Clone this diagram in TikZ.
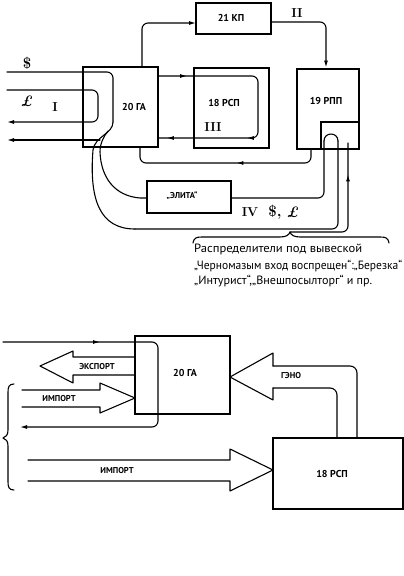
\documentclass[tikz,border=0pt]{standalone}
\usepackage{fontspec}
\newfontfamily\ptsans{PT Sans}
\usetikzlibrary{arrows.meta,decorations.markings}
\tikzset{
  box/.style={draw, line width=2.5pt, inner sep=0pt, outer sep=0pt},
  thinbox/.style={draw, line width=1.1pt},
  ln/.style={line width=1.1pt, line cap=round, line join=round},
  tipend/.style={-{Latex[length=7pt,width=4pt]}},
  marr/.style={postaction={decorate, decoration={markings, mark=at position #1 with {\arrow{Latex[length=7pt,width=4pt]}}}}},
  boxlab/.style={font=\ptsans\bfseries\fontsize{10}{12}\selectfont, inner sep=0pt},
  smlab/.style={font=\ptsans\bfseries\fontsize{8.5}{10}\selectfont, inner sep=0pt},
  roman/.style={font=\bfseries\fontsize{13}{13}\selectfont, inner sep=0pt},
  sym/.style={font=\bfseries\fontsize{15}{15}\selectfont, inner sep=0pt},
  txt/.style={font=\ptsans\fontsize{12}{14}\selectfont, inner sep=0pt, anchor=west}
}
\begin{document}
\begin{tikzpicture}[x=1pt,y=-1pt]
\useasboundingbox (0,0) rectangle (404,576);

% ---------- upper diagram: boxes ----------
\node[box, minimum width=75pt, minimum height=31pt] (kp) at (233.5,18.5) {};
\node[box, minimum width=75pt, minimum height=80pt] (gaA) at (120.5,107) {};
\node[box, minimum width=75pt, minimum height=80pt] (rspA) at (231.5,108) {};
\node[box, minimum width=62pt, minimum height=80pt] (rpp) at (328,109) {};
\node[thinbox, minimum width=38pt, minimum height=27pt, inner sep=0pt, outer sep=0pt] (rppin) at (340,135.5) {};
\node[box, minimum width=84pt, minimum height=32pt] (elita) at (189,197) {};

\node[boxlab] (tkp) at (231,18) {21 КП};
\node[boxlab] (tgaA) at (134,107) {20 ГА};
\node[boxlab] (trspA) at (224,103) {18 РСП};
\node[boxlab] (trpp) at (326,101) {19 РПП};
\node[smlab] (telita) at (182,196) {„ЭЛИТА“};

% roman numerals and currency
\node[roman] (rI) at (55,107) {I};
\node[roman] (rII) at (297,13) {II};
\node[roman] (rIII) at (213,127) {III};
\node[roman] (rIV) at (250,212) {IV};
\node[sym] (sd1) at (27,63) {\$};
\node[sym] (sl1) at (27,101) {\itshape £};
\node[sym] (sd2) at (275,212) {\$,};
\node[sym] (sl2) at (293,212) {\itshape £};

% ---------- upper diagram: connectors ----------
\draw[ln, tipend, rounded corners=6pt] (142,67) -- (142,23) -- (kp.west |- 0,23);
\draw[ln, tipend, rounded corners=6pt] (kp.east |- 0,22) -- (326,22) -- (326,67.5);
\draw[ln, rounded corners=6pt, marr=29pt, marr=168pt, marr=248pt] (158,76) -- (258,76) -- (258,138) -- (158,138);
\draw[ln, rounded corners=6pt, marr=86pt] (311,149) -- (311,163) -- (140,163) -- (140,147);

\draw[ln, rounded corners=6pt] (7,72) -- (113,72) -- (113,122);
\draw[ln] (113,122) .. controls (113,134) and (95,136) .. (93,150)
  .. controls (89,200) and (100,229) .. (135,229);
\draw[ln, rounded corners=6pt] (135,229) -- (338,229) -- (338,141);
\draw[ln] (338,141) .. controls (338,131.7) and (324,131.7) .. (324,141);
\draw[ln, rounded corners=6pt] (324,141) -- (324,198) -- (elita.east |- 0,198);
\draw[ln] (elita.west |- 0,198) -- (140,198) .. controls (115,196) and (101,178) .. (100,152)
  .. controls (100,143) and (104,136) .. (108,131);
\draw[ln, tipend, rounded corners=6pt] (7,90) -- (98,90) -- (98,122) -- (7,122);
\draw[ln, tipend] (100,140) -- (7,140);

\draw[ln] (193,243) .. controls (194,238) and (196,237) .. (202,237) -- (280,237)
  .. controls (286,237) and (289,235) .. (290,232)
  .. controls (291,235) and (294,237) .. (300,237) -- (380,237)
  .. controls (386,237) and (388,238) .. (389,243);
\coordinate (cusp) at (290,232);
\draw[ln, rounded corners=6pt, marr=113pt] (cusp) -- (348,232) -- (348,143);

\node[txt] (t1) at (194,249) {\resizebox{168pt}{\height}{Распределители под вывеской}};
\node[txt] (t2) at (194,266) {\resizebox{208pt}{\height}{„Черномазым вход воспрещен“:„Березка“}};
\node[txt] (t3) at (194,281) {\resizebox{178pt}{\height}{„Интурист“,„Внешпосылторг“ и пр.}};

% ---------- lower diagram ----------
\node[box, minimum width=95pt, minimum height=78pt] (gaB) at (182.5,375) {};
\node[box, minimum width=130pt, minimum height=71pt] (rspB) at (338,473.5) {};
\node[boxlab] (tgaB) at (185,373) {20 ГА};
\node[boxlab] (trspB) at (332,474) {18 РСП};

\draw[ln, tipend, rounded corners=6pt, marr=97pt] (3,342) -- (158,342) -- (158,427) -- (20,427);

\draw[ln] (gaB.west |- 0,357) -- (73,357) -- (73,351) -- (40,366) -- (73,383) -- (73,375) -- (gaB.west |- 0,375);
\node[smlab] (texp) at (97,367) {ЭКСПОРТ};
\draw[ln] (22,390) -- (100,390) -- (100,383) -- (gaB.west |- 0,398) -- (100,413) -- (100,407) -- (22,407);
\node[smlab] (timp1) at (59,399) {ИМПОРТ};
\draw[ln] (28,460) -- (230,460) -- (230,449) -- (rspB.west |- 0,470) -- (230,491) -- (230,481) -- (28,481);
\node[smlab] (timp2) at (117,471) {ИМПОРТ};
\draw[ln] (273,366) -- (273,353) -- (gaB.east |- 0,377) -- (273,400) -- (273,388);
\draw[ln, rounded corners=7pt] (273,366) -- (357,366) -- (rspB.north -| 357,0);
\draw[ln, rounded corners=7pt] (273,388) -- (337,388) -- (rspB.north -| 337,0);
\node[smlab] (tgeno) at (291,376) {ГЭНО};

\draw[ln] (14,384) .. controls (9,384) and (8,387) .. (8,392) -- (8,430)
  .. controls (8,435) and (6,437) .. (3,438)
  .. controls (6,439) and (8,441) .. (8,446) -- (8,482)
  .. controls (8,487) and (9,490) .. (14,490);
\end{tikzpicture}
\end{document}
